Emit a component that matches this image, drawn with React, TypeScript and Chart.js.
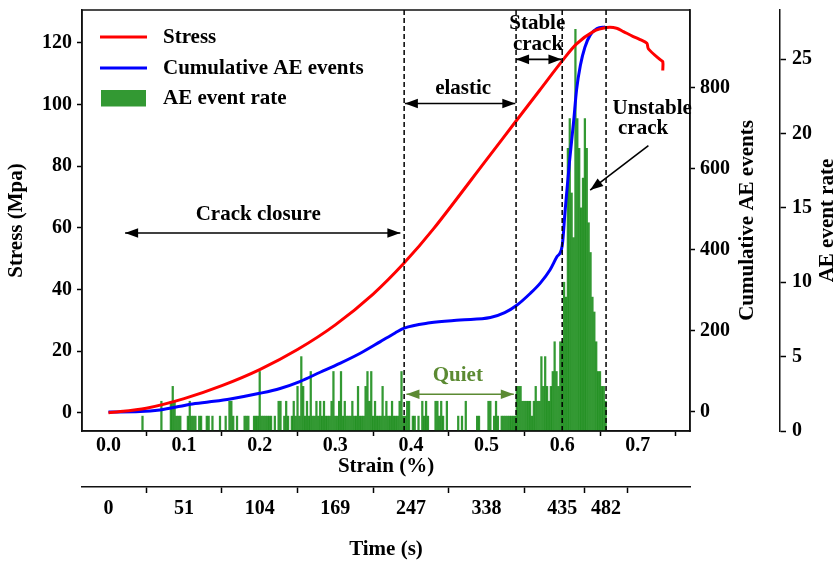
import React, { useEffect, useRef } from "react";
import { Chart, registerables } from "chart.js";
Chart.register(...registerables);

// ---------- data ----------
const strainTicks = [0, 0.1, 0.2, 0.3, 0.4, 0.5, 0.6, 0.7];
const timeTickStrains = [0, 0.1, 0.2, 0.3, 0.4, 0.5, 0.6, 0.658];
const timeTickLabels = ["0", "51", "104", "169", "247", "338", "435", "482"];
const stressTicks = [0, 20, 40, 60, 80, 100, 120];
const cumTicks = [0, 200, 400, 600, 800];
const rateTicks = [0, 5, 10, 15, 20, 25];

const stressStrain = [0, 0.05, 0.1, 0.15, 0.2, 0.25, 0.3, 0.35, 0.39, 0.43, 0.5, 0.539, 0.57, 0.6, 0.619, 0.641, 0.659, 0.672, 0.681, 0.694, 0.703, 0.712, 0.714, 0.73, 0.733, 0.733];
const stressValues = [0, 1.5, 4.6, 8.8, 14.0, 20.5, 28.5, 38.5, 48.3, 59.7, 82.1, 94.6, 104.5, 114.1, 119.6, 123.6, 124.9, 124.7, 123.6, 122, 121, 119.8, 118, 114.4, 113.9, 111];

const cumStrain = [0, 0.042, 0.068, 0.095, 0.108, 0.134, 0.161, 0.2, 0.227, 0.253, 0.28, 0.306, 0.333, 0.359, 0.379, 0.391, 0.425, 0.465, 0.505, 0.524, 0.539, 0.558, 0.571, 0.584, 0.593, 0.6, 0.604, 0.6095, 0.615, 0.619, 0.624, 0.63, 0.637, 0.646, 0.657];
const cumValues = [0, 1, 5, 14, 19, 25, 32, 46, 58, 75, 98, 120, 145, 173, 195, 207, 220, 227, 233, 245, 262, 293, 318, 351, 383, 410, 500, 615, 715, 795, 855, 900, 930, 946, 950];

// AE event rate, one bar every 0.0025 % strain starting at 0
const rateStart = 0;
const rateStep = 0.0025;
const aeRate = [
  0, 0, 0, 0, 0, 0, 0, 0, 0, 0, 0, 0, 0, 0, 0, 0, 0, 0, 1, 0,
  0, 0, 0, 0, 0, 0, 0, 0, 2, 0, 0, 0, 0, 2, 3, 2, 1, 1, 1, 0,
  0, 0, 1, 2, 1, 1, 1, 0, 1, 1, 0, 0, 1, 1, 0, 1, 0, 0, 0, 1,
  0, 0, 1, 0, 2, 2, 1, 0, 1, 0, 0, 0, 1, 1, 1, 0, 0, 1, 1, 1,
  4, 1, 1, 1, 1, 1, 1, 0, 1, 0, 2, 2, 0, 1, 2, 1, 0, 1, 2, 1,
  3, 1, 5, 3, 1, 2, 1, 4, 1, 1, 2, 1, 2, 1, 2, 1, 1, 1, 2, 4,
  1, 1, 2, 4, 1, 2, 1, 1, 1, 2, 1, 1, 3, 1, 1, 1, 3, 4, 2, 4,
  1, 2, 1, 1, 1, 3, 1, 2, 1, 1, 2, 1, 1, 1, 2, 4, 1, 1, 2, 2,
  0, 1, 1, 0, 1, 0, 2, 1, 2, 1, 0, 0, 0, 2, 2, 1, 2, 1, 0, 2,
  0, 0, 0, 0, 0, 1, 0, 1, 0, 2, 0, 0, 0, 0, 0, 1, 1, 0, 0, 0,
  0, 2, 2, 0, 1, 2, 1, 0, 1, 1, 1, 1, 1, 1, 1, 1, 3, 3, 3, 2,
  2, 2, 2, 2, 1, 2, 3, 2, 2, 5, 3, 5, 3, 2, 3, 4, 6, 4, 3, 6,
  6, 10, 9, 19, 21, 16, 13, 27, 21, 19, 15, 17, 21, 19, 14, 12, 9, 8, 6, 4,
  4, 3, 3, 2,
];

const phaseBoundaries = [0.391, 0.539, 0.6, 0.658];

// annotation anchors in data units (strain %, stress MPa)
const doubleArrows = [
  { from: [0.022, 58.3], to: [0.386, 58.3], color: "#000" },
  { from: [0.392, 100.3], to: [0.538, 100.3], color: "#000" },
  { from: [0.539, 114.6], to: [0.599, 114.6], color: "#000" },
  { from: [0.394, 6.0], to: [0.536, 6.0], color: "#5b8a32" },
];
const singleArrow = { from: [0.714, 86.6], to: [0.637, 72.2] };
const labels = [
  { text: "Crack closure", at: [0.198, 64.4], color: "#000" },
  { text: "elastic", at: [0.469, 105.2], color: "#000" },
  { text: "Stable", at: [0.567, 126.2], color: "#000" },
  { text: "crack", at: [0.568, 119.3], color: "#000" },
  { text: "Unstable", at: [0.719, 98.8], color: "#000" },
  { text: "crack", at: [0.707, 92], color: "#000" },
  { text: "Quiet", at: [0.462, 12.2], color: "#5b8a32" },
];

// ---------- styling ----------
const FONT = '"Liberation Serif", "Times New Roman", serif';
const tickFont = { family: FONT, size: 20, weight: "bold" as const };
const titleFont = { family: FONT, size: 21, weight: "bold" as const };
const BAR_COLOR = "rgba(0,128,0,0.8)";

function drawArrowHead(ctx: CanvasRenderingContext2D, x: number, y: number, ang: number) {
  const L = 13, W = 4.8;
  ctx.beginPath();
  ctx.moveTo(x, y);
  ctx.lineTo(x - L * Math.cos(ang) + W * Math.sin(ang), y - L * Math.sin(ang) - W * Math.cos(ang));
  ctx.lineTo(x - L * Math.cos(ang) - W * Math.sin(ang), y - L * Math.sin(ang) + W * Math.cos(ang));
  ctx.closePath();
  ctx.fill();
}

function drawArrow(ctx: CanvasRenderingContext2D, x1: number, y1: number, x2: number, y2: number, both: boolean, color: string) {
  const ang = Math.atan2(y2 - y1, x2 - x1);
  ctx.strokeStyle = color;
  ctx.fillStyle = color;
  ctx.lineWidth = 1.6;
  ctx.beginPath();
  ctx.moveTo(x1, y1);
  ctx.lineTo(x2, y2);
  ctx.stroke();
  drawArrowHead(ctx, x2, y2, ang);
  if (both) drawArrowHead(ctx, x1, y1, ang + Math.PI);
}

const decorPlugin = {
  id: "decor",
  afterDatasetsDraw(chart: any) {
    const { ctx, chartArea: a, scales } = chart;
    const X = (v: number) => scales.x.getPixelForValue(v);
    const Y = (v: number) => scales.yStress.getPixelForValue(v);
    ctx.save();
    // phase boundaries
    ctx.strokeStyle = "#000";
    ctx.lineWidth = 1.5;
    ctx.setLineDash([5, 3]);
    phaseBoundaries.forEach((s) => {
      const px = X(s);
      ctx.beginPath();
      ctx.moveTo(px, a.top);
      ctx.lineTo(px, a.bottom);
      ctx.stroke();
    });
    ctx.setLineDash([]);
    // frame
    ctx.strokeStyle = "#111";
    ctx.lineWidth = 1.5;
    ctx.strokeRect(a.left, a.top, a.right - a.left, a.bottom - a.top);
    // arrows
    doubleArrows.forEach((d) => drawArrow(ctx, X(d.from[0]), Y(d.from[1]), X(d.to[0]), Y(d.to[1]), true, d.color));
    drawArrow(ctx, X(singleArrow.from[0]), Y(singleArrow.from[1]), X(singleArrow.to[0]), Y(singleArrow.to[1]), false, "#000");
    // texts
    ctx.font = `bold 21px ${FONT}`;
    ctx.textAlign = "center";
    ctx.textBaseline = "middle";
    labels.forEach((l) => {
      ctx.fillStyle = l.color;
      ctx.fillText(l.text, X(l.at[0]), Y(l.at[1]));
    });
    // legend
    const lx = a.left + 18;
    ctx.lineWidth = 3;
    ctx.strokeStyle = "#ff0000";
    ctx.beginPath(); ctx.moveTo(lx, a.top + 27); ctx.lineTo(lx + 47, a.top + 27); ctx.stroke();
    ctx.strokeStyle = "#0000ff";
    ctx.beginPath(); ctx.moveTo(lx, a.top + 58); ctx.lineTo(lx + 47, a.top + 58); ctx.stroke();
    ctx.fillStyle = BAR_COLOR;
    ctx.fillRect(lx + 1, a.top + 80, 45, 16.5);
    ctx.fillStyle = "#000";
    ctx.textAlign = "left";
    ctx.fillText("Stress", a.left + 81, a.top + 28);
    ctx.fillText("Cumulative AE events", a.left + 81, a.top + 58.5);
    ctx.fillText("AE event rate", a.left + 81, a.top + 89);
    ctx.restore();
  },
  afterDraw(chart: any) {
    const { ctx, chartArea: a, scales } = chart;
    const cy = (a.top + a.bottom) / 2;
    ctx.save();
    ctx.font = `bold 21px ${FONT}`;
    ctx.fillStyle = "#000";
    ctx.textAlign = "center";
    ctx.textBaseline = "middle";
    const rot = (text: string, x: number) => {
      ctx.save();
      ctx.translate(x, cy);
      ctx.rotate(-Math.PI / 2);
      ctx.fillText(text, 0, 0);
      ctx.restore();
    };
    rot("Cumulative AE events", scales.yCum.left + 58);
    rot("AE event rate", scales.yRate.left + 48);
    ctx.restore();
  },
};

function fixedTicks(values: number[]) {
  return (scale: any) => {
    scale.ticks = values.map((v) => ({ value: v }));
  };
}

function fit(dim: "width" | "height", size: number) {
  return (s: any) => {
    s[dim] = size;
    s.paddingTop = 0;
    s.paddingBottom = 0;
    s.paddingLeft = 0;
    s.paddingRight = 0;
  };
}

const gridCfg = { drawOnChartArea: false, drawTicks: true, tickLength: 5, tickColor: "#000", tickWidth: 1.5 };
const borderCfg = { display: true, color: "#111", width: 1.5 };

export default function App() {
  const ref = useRef<HTMLCanvasElement>(null);
  useEffect(() => {
    const stressData = stressStrain.map((s, i) => ({ x: s, y: stressValues[i] }));
    const cumData = cumStrain.map((s, i) => ({ x: s, y: cumValues[i] }));
    const rateData = aeRate
      .map((v, i) => ({ x: rateStart + i * rateStep, y: v }))
      .filter((d) => d.y > 0);
    const chart = new Chart(ref.current as HTMLCanvasElement, {
      type: "bar",
      data: {
        datasets: [
          {
            type: "line",
            label: "Stress",
            data: stressData,
            xAxisID: "x",
            yAxisID: "yStress",
            borderColor: "#ff0000",
            borderWidth: 3,
            pointRadius: 0,
            tension: 0.3,
            fill: false,
            order: 1,
          } as any,
          {
            type: "line",
            label: "Cumulative AE events",
            data: cumData,
            xAxisID: "x",
            yAxisID: "yCum",
            borderColor: "#0000ff",
            borderWidth: 3,
            pointRadius: 0,
            cubicInterpolationMode: "monotone",
            fill: false,
            order: 2,
          } as any,
          {
            type: "bar",
            label: "AE event rate",
            data: rateData,
            xAxisID: "x",
            yAxisID: "yRate",
            backgroundColor: BAR_COLOR,
            borderWidth: 0,
            barThickness: 1.6,
            grouped: false,
            order: 3,
          } as any,
        ],
      },
      options: {
        responsive: false,
        animation: false,
        devicePixelRatio: 1,
        layout: { padding: { top: 10, left: 0, right: 0, bottom: 0 } },
        plugins: { legend: { display: false }, tooltip: { enabled: false } },
        scales: {
          x: {
            type: "linear",
            position: "bottom",
            weight: 0,
            min: -0.035,
            max: 0.769,
            offset: false,
            afterBuildTicks: fixedTicks(strainTicks),
            afterFit: fit("height", 56),
            ticks: { font: tickFont, color: "#000", padding: -2, autoSkip: false, maxRotation: 0, callback: (v: any) => Number(v).toFixed(1) },
            grid: gridCfg,
            border: borderCfg,
            title: { display: true, text: "Strain (%)", font: titleFont, color: "#000", padding: { top: 0, bottom: 8 } },
          },
          xTime: {
            type: "linear",
            position: "bottom",
            weight: 1,
            min: -0.035,
            max: 0.769,
            offset: false,
            afterBuildTicks: fixedTicks(timeTickStrains),
            afterFit: fit("height", 78),
            ticks: { font: tickFont, color: "#000", padding: 4, autoSkip: false, maxRotation: 0, callback: (_v: any, i: number) => timeTickLabels[i] },
            grid: { ...gridCfg, tickLength: 6 },
            border: borderCfg,
            title: { display: true, text: "Time (s)", font: titleFont, color: "#000", padding: { top: 0, bottom: 3 } },
          },
          yStress: {
            type: "linear",
            position: "left",
            min: -5.9,
            max: 130.6,
            afterBuildTicks: fixedTicks(stressTicks),
            afterFit: fit("width", 82),
            ticks: { font: tickFont, color: "#000", padding: 5, autoSkip: false },
            grid: gridCfg,
            border: borderCfg,
            title: { display: true, text: "Stress (Mpa)", font: titleFont, color: "#000", padding: { top: 4, bottom: 0 } },
          },
          yCum: {
            type: "linear",
            position: "right",
            weight: 0,
            min: -47,
            max: 992,
            afterBuildTicks: fixedTicks(cumTicks),
            afterFit: fit("width", 90),
            ticks: { font: tickFont, color: "#000", padding: 5, autoSkip: false },
            grid: gridCfg,
            border: borderCfg,
          },
          yRate: {
            type: "linear",
            position: "right",
            weight: 1,
            min: 0,
            max: 28.3,
            afterBuildTicks: fixedTicks(rateTicks),
            afterFit: fit("width", 54),
            ticks: { font: tickFont, color: "#000", padding: 6, autoSkip: false },
            grid: { ...gridCfg, tickLength: 6 },
            border: borderCfg,
          },
        },
      } as any,
      plugins: [decorPlugin],
    });
    return () => chart.destroy();
  }, []);
  return (
    <div style={{ position: "absolute", left: 0, top: 0, width: 834, height: 565, background: "#fff" }}>
      <canvas ref={ref} width={834} height={565} style={{ display: "block", width: 834, height: 565 }} />
    </div>
  );
}
